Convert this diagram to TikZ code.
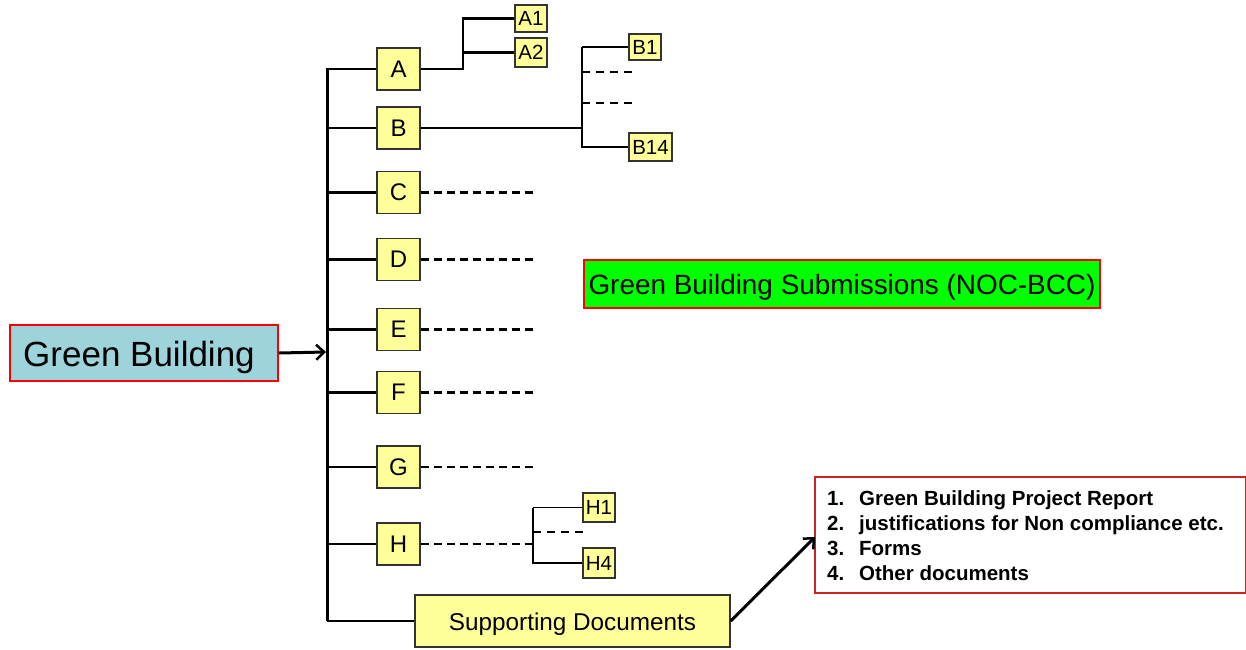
\documentclass[tikz,border=0pt]{standalone}
\usepackage{fontspec}
\setmainfont{Liberation Sans}
\usetikzlibrary{arrows.meta}
\definecolor{boxyellow}{HTML}{FFFF99}
\definecolor{gbcyan}{HTML}{9DD3DA}
\definecolor{brightgreen}{HTML}{00FF00}
\definecolor{listred}{HTML}{CC2222}
\begin{document}
\begin{tikzpicture}[x=1pt,y=-1pt,
  letterbox/.style={draw=black!80,line width=1.2pt,fill=boxyellow,inner sep=0pt,minimum width=43pt,minimum height=42pt,font=\fontsize{24}{26}\selectfont},
  smallbox/.style={draw=black!80,line width=1.2pt,fill=boxyellow,inner sep=0pt,minimum height=28pt,font=\fontsize{20.5}{22}\selectfont},
  branch/.style={line width=2.4pt},
  thinbranch/.style={line width=1.4pt},
  dashbranch/.style={line width=2.5pt,dash pattern=on 8pt off 5pt},
  thindash/.style={line width=1.4pt,dash pattern=on 8pt off 6pt},
  barb/.style={-{Straight Barb[length=8pt,width=15pt,line width=2.5pt]},line width=3pt}]
\useasboundingbox (0,0) rectangle (1246,649);
% main node
\node[draw=red,line width=1.5pt,fill=gbcyan,minimum width=268pt,minimum height=56pt,inner sep=0pt,text height=34pt,text depth=7pt,font=\fontsize{35}{38}\selectfont] (gb) at (144,353) {\hspace*{-10pt}Green Building};
% trunk
\coordinate (ttop) at (327,68);
\coordinate (tbot) at (327,621);
\coordinate (tmid) at (326,352);
\draw[line width=3pt] (ttop) -- (tbot);
\draw[barb] (gb.east) -- (tmid);
% letter boxes
\node[letterbox] (A) at (398.5,69) {A};
\node[letterbox] (B) at (398.5,128) {B};
\node[letterbox] (C) at (398.5,192.5) {C};
\node[letterbox] (D) at (398.5,259.5) {D};
\node[letterbox] (E) at (398.5,329.5) {E};
\node[letterbox] (F) at (398.5,392.5) {F};
\node[letterbox] (G) at (398.5,467) {G};
\node[letterbox] (H) at (398.5,544) {H};
\node[draw=black!80,line width=1.2pt,fill=boxyellow,inner sep=0pt,minimum width=315pt,minimum height=52pt,text height=23.5pt,text depth=5pt,font=\fontsize{24.3}{27}\selectfont] (sd) at (572.5,621) {Supporting Documents};
% branches from trunk
\foreach \n in {A,B,C,D,E,F,G,H,sd}{
  \draw[branch] (ttop |- \n.west) -- (\n.west);
}
% A sub-tree
\node[smallbox,minimum width=32pt,minimum height=27pt] (A1) at (531,18.5) {A1};
\node[smallbox,minimum width=32pt,minimum height=29pt] (A2) at (531,52.5) {A2};
\coordinate (aj) at (463,69);
\draw[branch] (A.east) -- (aj) -- (aj |- A1.west) -- (A1.west);
\draw[branch] (aj |- A2.west) -- (A2.west);
% B sub-tree
\node[smallbox,minimum width=32pt,minimum height=26pt] (B1) at (645,47) {B1};
\node[smallbox,minimum width=43pt,minimum height=28pt] (B14) at (650.5,147) {B14};
\coordinate (bj) at (582,128);
\coordinate (bd1) at (633,72);
\coordinate (bd2) at (633,103);
\draw[thinbranch] (B.east) -- (bj);
\draw[thinbranch] (bj |- B1.west) -- (B1.west);
\draw[thinbranch] (bj |- B1.west) -- (bj |- B14.west) -- (B14.west);
\draw[thindash] (bj |- bd1) -- (bd1);
\draw[thindash] (bj |- bd2) -- (bd2);
% C-G dashed
\foreach \n in {C,D,E,F,G}{
  \draw[dashbranch] (\n.east) -- ++(112,0);
}
% H sub-tree
\node[smallbox,minimum width=32pt,minimum height=29pt] (H1) at (599,507.5) {H1};
\node[smallbox,minimum width=32pt,minimum height=30pt] (H4) at (599,563) {H4};
\coordinate (hj) at (533,544);
\coordinate (hd) at (583,532);
\draw[dashbranch] (H.east) -- (hj);
\draw[thinbranch] (hj |- H1.west) -- (H1.west);
\draw[thinbranch] (hj |- H1.west) -- (hj |- H4.west) -- (H4.west);
\draw[thindash] (hj |- hd) -- (hd);
% title box
\node[draw=red,line width=1.5pt,fill=brightgreen,minimum width=516pt,minimum height=48pt,inner sep=0pt,text height=26.5pt,text depth=6pt,font=\fontsize{27.9}{30}\selectfont] (title) at (842,284) {Green Building Submissions (NOC-BCC)};
% list box
\node[draw=listred,line width=1.3pt,fill=white,minimum width=431pt,minimum height=116pt,inner sep=0pt] (list) at (1030.5,535) {};
\node[anchor=north west,inner sep=0pt,align=left,font=\fontsize{20.5}{25}\selectfont\bfseries] (listtext) at (827,490) {%
\makebox[32pt][l]{1.}Green Building Project Report\\
\makebox[32pt][l]{2.}justifications for Non compliance etc.\\
\makebox[32pt][l]{3.}Forms\\
\makebox[32pt][l]{4.}Other documents};
\coordinate (listin) at (815,537);
\draw[barb] (sd.east) -- (listin);
\end{tikzpicture}
\end{document}
